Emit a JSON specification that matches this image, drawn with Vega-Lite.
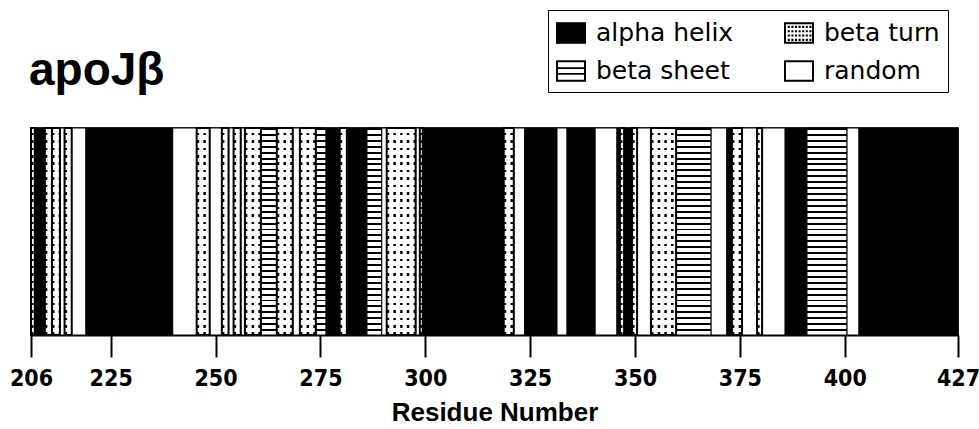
{
  "$schema": "https://vega.github.io/schema/vega-lite/v6.json",
  "width": 927,
  "height": 207,
  "autosize": {"type": "none"},
  "padding": {"left": 31, "top": 128, "right": 21, "bottom": 94},
  "background": "white",
  "config": {"view": {"stroke": "black", "strokeWidth": 1.5}, "font": "Liberation Sans"},
  "title": {"text": "apoJβ", "anchor": "start", "frame": "group", "orient": "top", "offset": -121, "baseline": "alphabetic", "fontSize": 46, "fontWeight": "bold", "font": "Liberation Sans", "color": "black", "dx": -2},
  "data": {"values": [
    {"s": 206, "e": 206.9, "t": "beta turn"},
    {"s": 206.9, "e": 209.3, "t": "alpha helix"},
    {"s": 209.3, "e": 211, "t": "beta turn"},
    {"s": 211, "e": 212.9, "t": "beta turn"},
    {"s": 212.9, "e": 214, "t": "random"},
    {"s": 214, "e": 215.7, "t": "beta turn"},
    {"s": 215.7, "e": 219.1, "t": "random"},
    {"s": 219.1, "e": 239.8, "t": "alpha helix"},
    {"s": 239.8, "e": 245.5, "t": "random"},
    {"s": 245.5, "e": 248.6, "t": "beta turn"},
    {"s": 248.6, "e": 251.5, "t": "random"},
    {"s": 251.5, "e": 253.1, "t": "beta turn"},
    {"s": 253.1, "e": 254.3, "t": "random"},
    {"s": 254.3, "e": 256, "t": "beta turn"},
    {"s": 256, "e": 257, "t": "random"},
    {"s": 257, "e": 260.8, "t": "beta turn"},
    {"s": 260.8, "e": 264.6, "t": "beta sheet"},
    {"s": 264.6, "e": 268.4, "t": "beta turn"},
    {"s": 268.4, "e": 270.1, "t": "random"},
    {"s": 270.1, "e": 273.9, "t": "beta turn"},
    {"s": 273.9, "e": 276.3, "t": "beta sheet"},
    {"s": 276.3, "e": 279.6, "t": "alpha helix"},
    {"s": 279.6, "e": 281.3, "t": "beta turn"},
    {"s": 281.3, "e": 286.1, "t": "alpha helix"},
    {"s": 286.1, "e": 289.6, "t": "beta sheet"},
    {"s": 289.6, "e": 290.8, "t": "random"},
    {"s": 290.8, "e": 297.7, "t": "beta turn"},
    {"s": 297.7, "e": 298.7, "t": "random"},
    {"s": 298.7, "e": 299.4, "t": "beta turn"},
    {"s": 299.4, "e": 318.7, "t": "alpha helix"},
    {"s": 318.7, "e": 321.1, "t": "beta turn"},
    {"s": 321.1, "e": 323.7, "t": "random"},
    {"s": 323.7, "e": 331.4, "t": "alpha helix"},
    {"s": 331.4, "e": 333.8, "t": "random"},
    {"s": 333.8, "e": 340.5, "t": "alpha helix"},
    {"s": 340.5, "e": 345.7, "t": "random"},
    {"s": 345.7, "e": 346.4, "t": "alpha helix"},
    {"s": 346.4, "e": 347.4, "t": "beta turn"},
    {"s": 347.4, "e": 349.3, "t": "alpha helix"},
    {"s": 349.3, "e": 350.5, "t": "beta turn"},
    {"s": 350.5, "e": 353.8, "t": "random"},
    {"s": 353.8, "e": 359.8, "t": "beta turn"},
    {"s": 359.8, "e": 368.1, "t": "beta sheet"},
    {"s": 368.1, "e": 371.9, "t": "random"},
    {"s": 371.9, "e": 373.1, "t": "alpha helix"},
    {"s": 373.1, "e": 375.5, "t": "beta turn"},
    {"s": 375.5, "e": 379.1, "t": "random"},
    {"s": 379.1, "e": 380.3, "t": "beta turn"},
    {"s": 380.3, "e": 385.8, "t": "random"},
    {"s": 385.8, "e": 391, "t": "alpha helix"},
    {"s": 391, "e": 400.5, "t": "beta sheet"},
    {"s": 400.5, "e": 403.4, "t": "random"},
    {"s": 403.4, "e": 427, "t": "alpha helix"}
  ]},
  "encoding": {
    "x": {"field": "s", "type": "quantitative",
      "scale": {"domain": [206, 427], "nice": false, "zero": false},
      "axis": {"values": [206, 225, 250, 275, 300, 325, 350, 375, 400, 427], "format": "d", "title": "Residue Number", "grid": false, "labelFlush": false, "labelOverlap": false, "tickSize": 22, "tickWidth": 2, "tickColor": "black", "domainColor": "black", "domainWidth": 2, "labelFont": "'DejaVu Sans Condensed', sans-serif", "labelFontSize": 23, "labelFontWeight": "bold", "labelColor": "black", "labelPadding": 10, "titleFont": "Liberation Sans", "titleFontSize": 26, "titleFontWeight": "bold", "titleColor": "black", "titlePadding": 9}}
  },
  "layer": [
    {
      "mark": {"type": "rect", "stroke": "black", "strokeWidth": 1},
      "encoding": {
        "x2": {"field": "e"},
        "y": {"datum": 0, "type": "quantitative", "scale": {"domain": [0, 1], "nice": false, "zero": false}, "axis": null},
        "y2": {"datum": 1},
        "fill": {"condition": {"test": "datum.t === 'alpha helix'", "value": "#000000"}, "value": "#ffffff"}
      }
    },
    {
      "transform": [{"filter": "datum.t === 'beta sheet'"}],
      "mark": {"type": "rect", "stroke": "black", "strokeWidth": 1,
        "fill": {"gradient": "linear", "x1": 0, "y1": 0, "x2": 0, "y2": 1, "stops": [
          {"offset": 0, "color": "#000"}, {"offset": 0.0094, "color": "#000"}, {"offset": 0.0094, "color": "#fff"}, {"offset": 0.0286, "color": "#fff"},
          {"offset": 0.0286, "color": "#000"}, {"offset": 0.038, "color": "#000"}, {"offset": 0.038, "color": "#fff"}, {"offset": 0.0571, "color": "#fff"},
          {"offset": 0.0571, "color": "#000"}, {"offset": 0.0665, "color": "#000"}, {"offset": 0.0665, "color": "#fff"}, {"offset": 0.0857, "color": "#fff"},
          {"offset": 0.0857, "color": "#000"}, {"offset": 0.0951, "color": "#000"}, {"offset": 0.0951, "color": "#fff"}, {"offset": 0.1143, "color": "#fff"},
          {"offset": 0.1143, "color": "#000"}, {"offset": 0.1237, "color": "#000"}, {"offset": 0.1237, "color": "#fff"}, {"offset": 0.1429, "color": "#fff"},
          {"offset": 0.1429, "color": "#000"}, {"offset": 0.1523, "color": "#000"}, {"offset": 0.1523, "color": "#fff"}, {"offset": 0.1714, "color": "#fff"},
          {"offset": 0.1714, "color": "#000"}, {"offset": 0.1808, "color": "#000"}, {"offset": 0.1808, "color": "#fff"}, {"offset": 0.2, "color": "#fff"},
          {"offset": 0.2, "color": "#000"}, {"offset": 0.2094, "color": "#000"}, {"offset": 0.2094, "color": "#fff"}, {"offset": 0.2286, "color": "#fff"},
          {"offset": 0.2286, "color": "#000"}, {"offset": 0.238, "color": "#000"}, {"offset": 0.238, "color": "#fff"}, {"offset": 0.2571, "color": "#fff"},
          {"offset": 0.2571, "color": "#000"}, {"offset": 0.2665, "color": "#000"}, {"offset": 0.2665, "color": "#fff"}, {"offset": 0.2857, "color": "#fff"},
          {"offset": 0.2857, "color": "#000"}, {"offset": 0.2951, "color": "#000"}, {"offset": 0.2951, "color": "#fff"}, {"offset": 0.3143, "color": "#fff"},
          {"offset": 0.3143, "color": "#000"}, {"offset": 0.3237, "color": "#000"}, {"offset": 0.3237, "color": "#fff"}, {"offset": 0.3429, "color": "#fff"},
          {"offset": 0.3429, "color": "#000"}, {"offset": 0.3523, "color": "#000"}, {"offset": 0.3523, "color": "#fff"}, {"offset": 0.3714, "color": "#fff"},
          {"offset": 0.3714, "color": "#000"}, {"offset": 0.3808, "color": "#000"}, {"offset": 0.3808, "color": "#fff"}, {"offset": 0.4, "color": "#fff"},
          {"offset": 0.4, "color": "#000"}, {"offset": 0.4094, "color": "#000"}, {"offset": 0.4094, "color": "#fff"}, {"offset": 0.4286, "color": "#fff"},
          {"offset": 0.4286, "color": "#000"}, {"offset": 0.438, "color": "#000"}, {"offset": 0.438, "color": "#fff"}, {"offset": 0.4571, "color": "#fff"},
          {"offset": 0.4571, "color": "#000"}, {"offset": 0.4665, "color": "#000"}, {"offset": 0.4665, "color": "#fff"}, {"offset": 0.4857, "color": "#fff"},
          {"offset": 0.4857, "color": "#000"}, {"offset": 0.4951, "color": "#000"}, {"offset": 0.4951, "color": "#fff"}, {"offset": 0.5143, "color": "#fff"},
          {"offset": 0.5143, "color": "#000"}, {"offset": 0.5237, "color": "#000"}, {"offset": 0.5237, "color": "#fff"}, {"offset": 0.5429, "color": "#fff"},
          {"offset": 0.5429, "color": "#000"}, {"offset": 0.5523, "color": "#000"}, {"offset": 0.5523, "color": "#fff"}, {"offset": 0.5714, "color": "#fff"},
          {"offset": 0.5714, "color": "#000"}, {"offset": 0.5808, "color": "#000"}, {"offset": 0.5808, "color": "#fff"}, {"offset": 0.6, "color": "#fff"},
          {"offset": 0.6, "color": "#000"}, {"offset": 0.6094, "color": "#000"}, {"offset": 0.6094, "color": "#fff"}, {"offset": 0.6286, "color": "#fff"},
          {"offset": 0.6286, "color": "#000"}, {"offset": 0.638, "color": "#000"}, {"offset": 0.638, "color": "#fff"}, {"offset": 0.6571, "color": "#fff"},
          {"offset": 0.6571, "color": "#000"}, {"offset": 0.6665, "color": "#000"}, {"offset": 0.6665, "color": "#fff"}, {"offset": 0.6857, "color": "#fff"},
          {"offset": 0.6857, "color": "#000"}, {"offset": 0.6951, "color": "#000"}, {"offset": 0.6951, "color": "#fff"}, {"offset": 0.7143, "color": "#fff"},
          {"offset": 0.7143, "color": "#000"}, {"offset": 0.7237, "color": "#000"}, {"offset": 0.7237, "color": "#fff"}, {"offset": 0.7429, "color": "#fff"},
          {"offset": 0.7429, "color": "#000"}, {"offset": 0.7523, "color": "#000"}, {"offset": 0.7523, "color": "#fff"}, {"offset": 0.7714, "color": "#fff"},
          {"offset": 0.7714, "color": "#000"}, {"offset": 0.7808, "color": "#000"}, {"offset": 0.7808, "color": "#fff"}, {"offset": 0.8, "color": "#fff"},
          {"offset": 0.8, "color": "#000"}, {"offset": 0.8094, "color": "#000"}, {"offset": 0.8094, "color": "#fff"}, {"offset": 0.8286, "color": "#fff"},
          {"offset": 0.8286, "color": "#000"}, {"offset": 0.838, "color": "#000"}, {"offset": 0.838, "color": "#fff"}, {"offset": 0.8571, "color": "#fff"},
          {"offset": 0.8571, "color": "#000"}, {"offset": 0.8665, "color": "#000"}, {"offset": 0.8665, "color": "#fff"}, {"offset": 0.8857, "color": "#fff"},
          {"offset": 0.8857, "color": "#000"}, {"offset": 0.8951, "color": "#000"}, {"offset": 0.8951, "color": "#fff"}, {"offset": 0.9143, "color": "#fff"},
          {"offset": 0.9143, "color": "#000"}, {"offset": 0.9237, "color": "#000"}, {"offset": 0.9237, "color": "#fff"}, {"offset": 0.9429, "color": "#fff"},
          {"offset": 0.9429, "color": "#000"}, {"offset": 0.9523, "color": "#000"}, {"offset": 0.9523, "color": "#fff"}, {"offset": 0.9714, "color": "#fff"},
          {"offset": 0.9714, "color": "#000"}, {"offset": 0.9808, "color": "#000"}, {"offset": 0.9808, "color": "#fff"}, {"offset": 1, "color": "#fff"}
        ]}},
      "encoding": {
        "x2": {"field": "e"},
        "y": {"datum": 0, "type": "quantitative"},
        "y2": {"datum": 1}
      }
    },
    {
      "transform": [{"filter": "datum.t === 'beta turn'"}],
      "mark": {"type": "rule", "color": "black", "strokeWidth": 207, "strokeDash": [2.5, 4.2], "strokeCap": "butt"},
      "encoding": {
        "x2": {"field": "e"},
        "y": {"datum": 0.5, "type": "quantitative"}
      }
    },
    {
      "transform": [{"filter": "datum.t === 'beta turn'"}],
      "mark": {"type": "rect", "stroke": "black", "strokeWidth": 2,
        "fill": {"gradient": "linear", "x1": 0, "y1": 0, "x2": 0, "y2": 1, "stops": [
          {"offset": 0, "color": "#fff"}, {"offset": 0.0236, "color": "#fff"}, {"offset": 0.0236, "color": "rgba(255,255,255,0)"}, {"offset": 0.0357, "color": "rgba(255,255,255,0)"},
          {"offset": 0.0357, "color": "#fff"}, {"offset": 0.0593, "color": "#fff"}, {"offset": 0.0593, "color": "rgba(255,255,255,0)"}, {"offset": 0.0714, "color": "rgba(255,255,255,0)"},
          {"offset": 0.0714, "color": "#fff"}, {"offset": 0.095, "color": "#fff"}, {"offset": 0.095, "color": "rgba(255,255,255,0)"}, {"offset": 0.1071, "color": "rgba(255,255,255,0)"},
          {"offset": 0.1071, "color": "#fff"}, {"offset": 0.1307, "color": "#fff"}, {"offset": 0.1307, "color": "rgba(255,255,255,0)"}, {"offset": 0.1429, "color": "rgba(255,255,255,0)"},
          {"offset": 0.1429, "color": "#fff"}, {"offset": 0.1665, "color": "#fff"}, {"offset": 0.1665, "color": "rgba(255,255,255,0)"}, {"offset": 0.1786, "color": "rgba(255,255,255,0)"},
          {"offset": 0.1786, "color": "#fff"}, {"offset": 0.2022, "color": "#fff"}, {"offset": 0.2022, "color": "rgba(255,255,255,0)"}, {"offset": 0.2143, "color": "rgba(255,255,255,0)"},
          {"offset": 0.2143, "color": "#fff"}, {"offset": 0.2379, "color": "#fff"}, {"offset": 0.2379, "color": "rgba(255,255,255,0)"}, {"offset": 0.25, "color": "rgba(255,255,255,0)"},
          {"offset": 0.25, "color": "#fff"}, {"offset": 0.2736, "color": "#fff"}, {"offset": 0.2736, "color": "rgba(255,255,255,0)"}, {"offset": 0.2857, "color": "rgba(255,255,255,0)"},
          {"offset": 0.2857, "color": "#fff"}, {"offset": 0.3093, "color": "#fff"}, {"offset": 0.3093, "color": "rgba(255,255,255,0)"}, {"offset": 0.3214, "color": "rgba(255,255,255,0)"},
          {"offset": 0.3214, "color": "#fff"}, {"offset": 0.345, "color": "#fff"}, {"offset": 0.345, "color": "rgba(255,255,255,0)"}, {"offset": 0.3571, "color": "rgba(255,255,255,0)"},
          {"offset": 0.3571, "color": "#fff"}, {"offset": 0.3807, "color": "#fff"}, {"offset": 0.3807, "color": "rgba(255,255,255,0)"}, {"offset": 0.3929, "color": "rgba(255,255,255,0)"},
          {"offset": 0.3929, "color": "#fff"}, {"offset": 0.4165, "color": "#fff"}, {"offset": 0.4165, "color": "rgba(255,255,255,0)"}, {"offset": 0.4286, "color": "rgba(255,255,255,0)"},
          {"offset": 0.4286, "color": "#fff"}, {"offset": 0.4522, "color": "#fff"}, {"offset": 0.4522, "color": "rgba(255,255,255,0)"}, {"offset": 0.4643, "color": "rgba(255,255,255,0)"},
          {"offset": 0.4643, "color": "#fff"}, {"offset": 0.4879, "color": "#fff"}, {"offset": 0.4879, "color": "rgba(255,255,255,0)"}, {"offset": 0.5, "color": "rgba(255,255,255,0)"},
          {"offset": 0.5, "color": "#fff"}, {"offset": 0.5236, "color": "#fff"}, {"offset": 0.5236, "color": "rgba(255,255,255,0)"}, {"offset": 0.5357, "color": "rgba(255,255,255,0)"},
          {"offset": 0.5357, "color": "#fff"}, {"offset": 0.5593, "color": "#fff"}, {"offset": 0.5593, "color": "rgba(255,255,255,0)"}, {"offset": 0.5714, "color": "rgba(255,255,255,0)"},
          {"offset": 0.5714, "color": "#fff"}, {"offset": 0.595, "color": "#fff"}, {"offset": 0.595, "color": "rgba(255,255,255,0)"}, {"offset": 0.6071, "color": "rgba(255,255,255,0)"},
          {"offset": 0.6071, "color": "#fff"}, {"offset": 0.6307, "color": "#fff"}, {"offset": 0.6307, "color": "rgba(255,255,255,0)"}, {"offset": 0.6429, "color": "rgba(255,255,255,0)"},
          {"offset": 0.6429, "color": "#fff"}, {"offset": 0.6665, "color": "#fff"}, {"offset": 0.6665, "color": "rgba(255,255,255,0)"}, {"offset": 0.6786, "color": "rgba(255,255,255,0)"},
          {"offset": 0.6786, "color": "#fff"}, {"offset": 0.7022, "color": "#fff"}, {"offset": 0.7022, "color": "rgba(255,255,255,0)"}, {"offset": 0.7143, "color": "rgba(255,255,255,0)"},
          {"offset": 0.7143, "color": "#fff"}, {"offset": 0.7379, "color": "#fff"}, {"offset": 0.7379, "color": "rgba(255,255,255,0)"}, {"offset": 0.75, "color": "rgba(255,255,255,0)"},
          {"offset": 0.75, "color": "#fff"}, {"offset": 0.7736, "color": "#fff"}, {"offset": 0.7736, "color": "rgba(255,255,255,0)"}, {"offset": 0.7857, "color": "rgba(255,255,255,0)"},
          {"offset": 0.7857, "color": "#fff"}, {"offset": 0.8093, "color": "#fff"}, {"offset": 0.8093, "color": "rgba(255,255,255,0)"}, {"offset": 0.8214, "color": "rgba(255,255,255,0)"},
          {"offset": 0.8214, "color": "#fff"}, {"offset": 0.845, "color": "#fff"}, {"offset": 0.845, "color": "rgba(255,255,255,0)"}, {"offset": 0.8571, "color": "rgba(255,255,255,0)"},
          {"offset": 0.8571, "color": "#fff"}, {"offset": 0.8807, "color": "#fff"}, {"offset": 0.8807, "color": "rgba(255,255,255,0)"}, {"offset": 0.8929, "color": "rgba(255,255,255,0)"},
          {"offset": 0.8929, "color": "#fff"}, {"offset": 0.9165, "color": "#fff"}, {"offset": 0.9165, "color": "rgba(255,255,255,0)"}, {"offset": 0.9286, "color": "rgba(255,255,255,0)"},
          {"offset": 0.9286, "color": "#fff"}, {"offset": 0.9522, "color": "#fff"}, {"offset": 0.9522, "color": "rgba(255,255,255,0)"}, {"offset": 0.9643, "color": "rgba(255,255,255,0)"},
          {"offset": 0.9643, "color": "#fff"}, {"offset": 0.9879, "color": "#fff"}, {"offset": 0.9879, "color": "rgba(255,255,255,0)"}, {"offset": 1, "color": "rgba(255,255,255,0)"}
        ]}},
      "encoding": {
        "x2": {"field": "e"},
        "y": {"datum": 0, "type": "quantitative"},
        "y2": {"datum": 1}
      }
    },
    {
      "mark": {"type": "point", "filled": true, "color": "black", "opacity": 0},
      "encoding": {
        "y": {"datum": 0.5, "type": "quantitative"},
        "shape": {"field": "t", "type": "nominal",
          "scale": {"domain": ["alpha helix", "beta turn", "beta sheet", "random"], "range": [
            "M-1,-0.72H1V0.72H-1Z",
            "M-1,-0.72H1V0.72H-1ZM-0.87,-0.59V0.59H0.87V-0.59ZM-0.75,-0.48h0.14v0.14h-0.14zM-0.51,-0.48h0.14v0.14h-0.14zM-0.27,-0.48h0.14v0.14h-0.14zM-0.03,-0.48h0.14v0.14h-0.14zM0.21,-0.48h0.14v0.14h-0.14zM0.45,-0.48h0.14v0.14h-0.14zM0.69,-0.48h0.14v0.14h-0.14zM-0.75,-0.19h0.14v0.14h-0.14zM-0.51,-0.19h0.14v0.14h-0.14zM-0.27,-0.19h0.14v0.14h-0.14zM-0.03,-0.19h0.14v0.14h-0.14zM0.21,-0.19h0.14v0.14h-0.14zM0.45,-0.19h0.14v0.14h-0.14zM0.69,-0.19h0.14v0.14h-0.14zM-0.75,0.1h0.14v0.14h-0.14zM-0.51,0.1h0.14v0.14h-0.14zM-0.27,0.1h0.14v0.14h-0.14zM-0.03,0.1h0.14v0.14h-0.14zM0.21,0.1h0.14v0.14h-0.14zM0.45,0.1h0.14v0.14h-0.14zM0.69,0.1h0.14v0.14h-0.14zM-0.75,0.39h0.14v0.14h-0.14zM-0.51,0.39h0.14v0.14h-0.14zM-0.27,0.39h0.14v0.14h-0.14zM-0.03,0.39h0.14v0.14h-0.14zM0.21,0.39h0.14v0.14h-0.14zM0.45,0.39h0.14v0.14h-0.14zM0.69,0.39h0.14v0.14h-0.14z",
            "M-1,-0.72H1V0.72H-1ZM-0.87,-0.59V0.59H0.87V-0.59ZM-0.87,-0.25H0.87V-0.13H-0.87ZM-0.87,0.13H0.87V0.25H-0.87Z",
            "M-1,-0.72H1V0.72H-1ZM-0.87,-0.59V0.59H0.87V-0.59Z"
          ]},
          "legend": {"title": null, "orient": "none", "legendX": 517, "legendY": -118, "columns": 2, "direction": "horizontal",
            "symbolSize": 900, "symbolStrokeWidth": 0, "symbolOpacity": 1, "symbolFillColor": "black",
            "labelFont": "DejaVu Sans", "labelFontSize": 25, "labelColor": "black", "labelOffset": 10, "labelLimit": 300,
            "columnPadding": 50, "rowPadding": 10, "padding": 8, "strokeColor": "black"}
        }
      }
    }
  ]
}
